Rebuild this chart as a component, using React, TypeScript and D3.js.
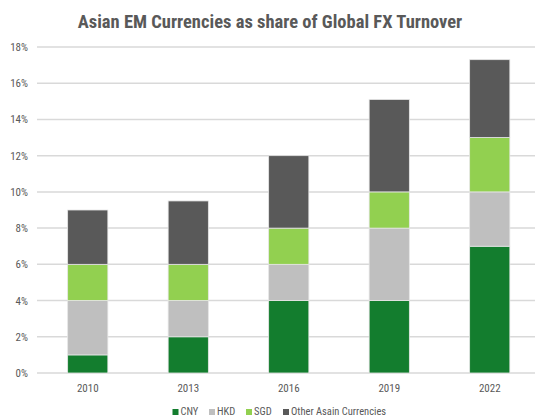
import React, { useEffect, useRef } from "react";
import * as d3 from "d3";

const years = ["2010", "2013", "2016", "2019", "2022"];
const seriesNames = ["CNY", "HKD", "SGD", "Other Asain Currencies"];
const cny = [1, 2, 4, 4, 7];
const hkd = [3, 2, 2, 4, 3];
const sgd = [2, 2, 2, 2, 3];
const other = [3, 3.5, 4, 5.1, 4.3];
const yTicks = [0, 2, 4, 6, 8, 10, 12, 14, 16, 18];
const colors = ["#137d2e", "#bfbfbf", "#92d050", "#595959"];

const W = 535;
const H = 417;
const FONT = "'Liberation Sans Narrow', 'Roboto Condensed', 'Liberation Sans', Arial, sans-serif";

export default function App() {
  const ref = useRef<SVGSVGElement>(null);
  useEffect(() => {
    const svg = d3.select(ref.current);
    svg.selectAll("*").remove();
    const left = 37.5, right = 540, top = 47, bottom = 373;
    const x = d3.scaleBand().domain(years).range([left, right]).paddingInner(0.6).paddingOuter(0.3);
    const y = d3.scaleLinear().domain([0, 18]).range([bottom, top]);

    svg.append("text").attr("x", 270).attr("y", 28).attr("text-anchor", "middle")
      .attr("font-family", FONT).attr("font-weight", "bold").attr("font-size", 18.5)
      .attr("fill", "#595959").text("Asian EM Currencies as share of Global FX Turnover");

    const g = svg.append("g");
    g.selectAll("line.grid").data(yTicks).join("line")
      .attr("x1", 37).attr("x2", W).attr("y1", d => y(d)).attr("y2", d => y(d))
      .attr("stroke", "#d9d9d9").attr("stroke-width", 1.5);
    g.selectAll("text.yt").data(yTicks).join("text")
      .attr("x", 28).attr("y", d => y(d) + 4).attr("text-anchor", "end")
      .attr("font-family", FONT).attr("font-size", 11).attr("fill", "#595959")
      .text(d => d + "%");

    const table = years.map((yr, i) => ({ year: yr, CNY: cny[i], HKD: hkd[i], SGD: sgd[i], "Other Asain Currencies": other[i] }));
    const stack = d3.stack<any>().keys(seriesNames)(table);
    stack.forEach((layer, li) => {
      g.append("g").selectAll("rect").data(layer).join("rect")
        .attr("x", d => x(d.data.year)!)
        .attr("width", x.bandwidth())
        .attr("y", d => y(d[1]))
        .attr("height", d => y(d[0]) - y(d[1]))
        .attr("fill", colors[li])
        .attr("stroke", "#e6e6e6").attr("stroke-width", 0.8);
    });

    g.selectAll("text.xt").data(years).join("text")
      .attr("x", d => x(d)! + x.bandwidth() / 2).attr("y", 392).attr("text-anchor", "middle")
      .attr("font-family", FONT).attr("font-size", 11).attr("fill", "#595959").text(d => d);

    const legendX = [172.5, 209, 246, 283];
    const lg = svg.append("g");
    seriesNames.forEach((s, i) => {
      lg.append("rect").attr("x", legendX[i]).attr("y", 409).attr("width", 6).attr("height", 6).attr("fill", colors[i]);
      lg.append("text").attr("x", legendX[i] + 8).attr("y", 415).attr("font-family", FONT)
        .attr("font-size", 10.5).attr("fill", "#595959").text(s);
    });
  }, []);
  return (
    <svg ref={ref} width={W} height={H} style={{ position: "absolute", left: 0, top: 0, background: "#fff" }} />
  );
}
